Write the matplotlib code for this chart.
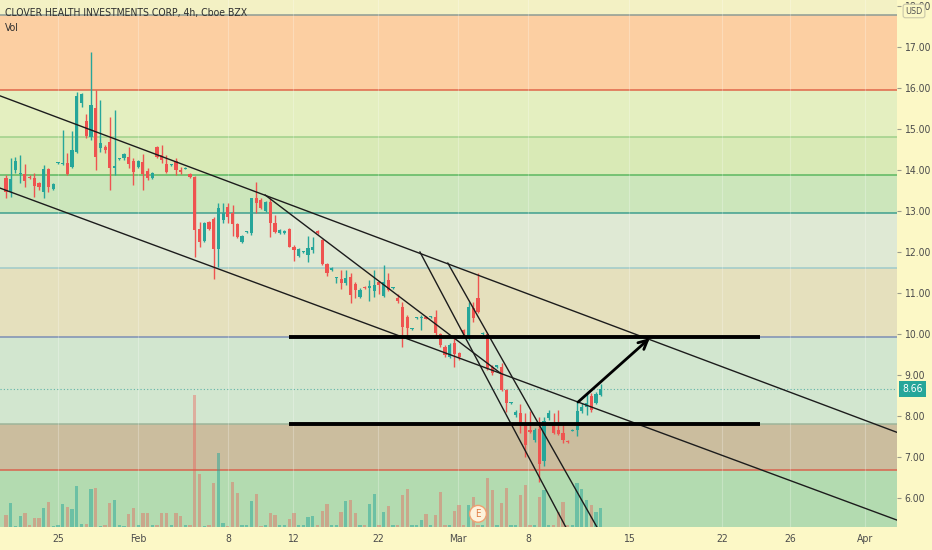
import matplotlib
matplotlib.use("Agg")
import matplotlib.pyplot as plt
import matplotlib.transforms as mtransforms
import numpy as np

plt.rcParams['font.family'] = ['DejaVu Sans']
plt.rcParams['font.stretch'] = 'condensed'

# ─── DATA (4h bars, Jan 20 -> Mar 11) ────────────────────────────────────────
OPEN = [13.81, 13.47, 14.00, 13.90, 13.90, 13.83, 13.81, 13.68, 13.47, 14.02,
        13.54, 14.17, 14.15, 14.17, 14.07, 14.44, 15.64, 15.20, 14.81, 15.51,
        14.54, 14.56, 14.68, 14.05, 14.27, 14.29, 14.32, 14.22, 14.07, 14.20,
        13.98, 13.81, 14.56, 14.37, 14.15, 14.12, 14.22, 14.00, 14.03, 13.90,
        13.83, 12.56, 12.27, 12.73, 12.81, 12.07, 12.78, 13.10, 12.95, 12.68,
        12.24, 12.49, 12.46, 13.32, 13.27, 13.00, 13.22, 12.71, 12.46, 12.46,
        12.56, 12.12, 11.90, 12.00, 11.93, 12.05, 12.51, 12.29, 11.71, 11.56,
        11.37, 11.34, 11.24, 11.39, 11.22, 10.90, 11.15, 11.12, 11.05, 11.27,
        10.93, 11.32, 11.12, 10.88, 10.66, 10.42, 10.12, 10.39, 10.39, 10.42,
        10.42, 10.42, 10.00, 9.68, 9.44, 9.78, 9.54, 10.10, 9.90, 10.63,
        10.88, 10.00, 10.00, 9.20, 9.20, 9.20, 8.63, 8.32, 8.03, 8.07,
        7.83, 7.66, 7.42, 7.69, 6.90, 7.95, 7.80, 7.66, 7.59, 7.39,
        7.64, 7.66, 8.12, 8.22, 8.49, 8.32, 8.51]
HIGH = [13.88, 14.29, 14.32, 14.37, 14.15, 13.88, 13.93, 13.71, 14.12, 14.05,
        13.68, 14.20, 14.98, 14.42, 14.95, 15.90, 15.88, 15.37, 16.88, 15.95,
        15.71, 14.61, 15.30, 15.47, 14.29, 14.42, 14.56, 14.29, 14.25, 14.39,
        14.05, 13.95, 14.59, 14.61, 14.37, 14.14, 14.29, 14.07, 14.07, 13.93,
        13.85, 12.73, 12.73, 12.76, 12.85, 13.20, 13.20, 13.20, 13.15, 12.71,
        12.42, 12.51, 13.32, 13.71, 13.32, 13.24, 13.32, 12.90, 12.56, 12.54,
        12.59, 12.17, 12.10, 12.02, 12.39, 12.37, 12.54, 12.32, 11.73, 11.63,
        11.39, 11.56, 11.56, 11.49, 11.27, 11.12, 11.17, 11.32, 11.56, 11.29,
        11.68, 11.49, 11.14, 10.98, 10.78, 10.46, 10.15, 10.42, 10.46, 10.44,
        10.44, 10.59, 10.02, 9.73, 9.78, 9.93, 9.56, 10.12, 10.78, 10.78,
        11.49, 10.04, 10.02, 9.24, 9.25, 9.29, 8.66, 8.34, 8.15, 8.29,
        8.07, 8.12, 7.71, 7.98, 7.98, 8.15, 8.07, 8.15, 7.83, 7.41,
        7.68, 8.37, 8.32, 8.56, 8.56, 8.59, 8.78]
LOW = [13.32, 13.34, 13.93, 13.68, 13.59, 13.78, 13.34, 13.51, 13.32, 13.47,
       13.51, 14.15, 14.12, 13.88, 14.05, 14.42, 15.54, 14.78, 14.73, 14.00,
       14.44, 14.42, 13.51, 13.88, 14.25, 14.25, 14.05, 13.64, 14.05, 13.51,
       13.76, 13.78, 14.29, 14.17, 13.93, 14.10, 13.88, 13.90, 14.02, 13.81,
       11.88, 12.12, 12.24, 12.54, 11.34, 11.64, 12.71, 12.71, 12.39, 12.34,
       12.22, 12.47, 12.42, 12.95, 13.05, 12.98, 12.37, 12.46, 12.44, 12.44,
       12.12, 11.78, 11.88, 11.98, 11.76, 11.98, 12.44, 11.68, 11.42, 11.54,
       11.24, 11.10, 11.20, 10.76, 10.88, 10.88, 11.10, 10.80, 10.90, 10.98,
       10.90, 11.05, 11.10, 10.76, 9.68, 9.90, 10.10, 10.37, 10.10, 10.37,
       10.40, 9.98, 9.68, 9.44, 9.41, 9.20, 9.37, 9.98, 9.85, 10.29,
       10.51, 9.98, 9.12, 9.00, 9.18, 8.61, 8.10, 8.30, 7.98, 7.59,
       7.00, 7.59, 7.37, 6.40, 6.78, 7.90, 7.56, 7.54, 7.34, 7.35,
       7.63, 7.51, 8.07, 8.03, 8.10, 8.29, 8.49]
CLOSE = [13.47, 13.78, 14.22, 13.93, 13.73, 13.81, 13.61, 13.59, 14.02, 13.59,
         13.66, 14.18, 14.17, 13.90, 14.49, 15.81, 15.85, 14.83, 15.59, 14.32,
         14.66, 14.49, 14.05, 14.10, 14.27, 14.39, 14.15, 13.95, 14.22, 13.90,
         13.81, 13.93, 14.32, 14.25, 13.95, 14.12, 14.00, 13.95, 14.05, 13.83,
         12.54, 12.24, 12.71, 12.56, 12.07, 13.07, 12.95, 12.85, 12.68, 12.37,
         12.39, 12.49, 13.32, 13.20, 13.07, 13.22, 12.71, 12.49, 12.54, 12.51,
         12.12, 12.05, 12.07, 12.00, 12.10, 12.12, 12.46, 11.71, 11.49, 11.61,
         11.37, 11.24, 11.37, 10.95, 11.08, 11.08, 11.12, 11.17, 11.20, 11.20,
         11.27, 11.08, 11.12, 10.81, 10.17, 10.15, 10.15, 10.39, 10.40, 10.37,
         10.42, 10.02, 9.73, 9.49, 9.73, 9.51, 9.44, 10.02, 10.66, 10.39,
         10.54, 10.02, 9.17, 9.05, 9.24, 8.63, 8.32, 8.33, 8.10, 7.83,
         7.29, 7.61, 7.66, 6.83, 7.88, 8.07, 7.59, 7.56, 7.42, 7.37,
         7.66, 8.12, 8.22, 8.32, 8.15, 8.54, 8.66]
VOLUME = [12, 24, 1, 11, 14, 2, 9, 9, 19, 25,
          1, 2, 23, 20, 18, 41, 3, 3, 38, 39,
          1, 2, 24, 27, 2, 1, 13, 19, 2, 14,
          14, 2, 2, 14, 14, 2, 14, 11, 2, 2,
          132, 53, 1, 2, 44, 74, 4, 1, 45, 34,
          2, 2, 26, 33, 1, 2, 14, 12, 2, 2,
          8, 14, 2, 2, 10, 11, 2, 16, 23, 2,
          2, 15, 26, 27, 14, 2, 2, 23, 33, 2,
          15, 21, 2, 2, 32, 38, 2, 2, 7, 13,
          2, 12, 35, 2, 2, 16, 22, 2, 22, 30,
          2, 2, 49, 37, 2, 24, 39, 2, 2, 32,
          42, 2, 2, 30, 37, 2, 2, 15, 25, 2,
          2, 44, 38, 27, 22, 15, 19]

# fib style levels and the band fills between them (bottom -> top)
LEVELS = [6.68, 7.80, 9.93, 11.61, 12.95, 13.88, 14.80, 15.95, 17.78]
LEVEL_COLORS = ['#d9644f', '#9db59a', '#7d8fb5', '#9fcaca', '#3f9f8e',
                '#5cb860', '#9fd08a', '#e0664a', '#8c9c94']
BAND_COLORS = ['#b3dbb0', '#cbbd9e', '#d2e6cf', '#e5e0bd', '#dfe9d4',
               '#cce6bb', '#d9eab6', '#e4efc0', '#fccfa2', '#f3f1c4']

# drawings: (bar, price) anchor pairs
TREND_LINES = [((-1.3, 15.81), (188.8, 7.60)),
               ((-1.3, 13.56), (188.8, 5.46)),
               ((54.9, 13.39), (104.7, 9.05)),
               ((87.7, 12.00), (118.6, 5.29)),
               ((93.6, 11.73), (125.2, 5.29))]
HLINES = [9.93, 7.80]
HLINE_SPAN = (60.0, 159.7)
ARROW = ((121.2, 8.34), (136.4, 9.90))

TICK_POS = [11.0, 28.0, 47.0, 60.8, 78.8, 95.8, 110.6, 132.0, 151.7, 166.1, 182.0]
TICK_LABELS = ['25', 'Feb', '8', '12', '22', 'Mar', '8', '15', '22', '26', 'Apr']
PRICE_TICKS = [6, 7, 8, 9, 10, 11, 12, 13, 14, 15, 16, 17, 18]
LAST_PRICE = 8.66
EARNINGS_BAR = 100

X_LIM = (-1.27, 188.77)
Y_LIM = (5.293, 18.146)

BG = '#fcf8c6'
UP, DOWN = '#26a69a', '#ef5350'

# ─── FIGURE ──────────────────────────────────────────────────────────────────
fig = plt.figure(figsize=(9.32, 5.5), dpi=100, facecolor=BG)
rect = [0, 23 / 550, 897 / 932, 527 / 550]
ax_bg = fig.add_axes(rect)
ax_vol = fig.add_axes(rect, sharex=ax_bg)
ax = fig.add_axes(rect, sharex=ax_bg)

# bands + levels
bounds = [Y_LIM[0]] + LEVELS + [Y_LIM[1]]
for lo, hi, colr in zip(bounds[:-1], bounds[1:], BAND_COLORS):
    ax_bg.axhspan(lo, hi, color=colr, lw=0)
for lvl, colr in zip(LEVELS, LEVEL_COLORS):
    ax_bg.axhline(lvl, color=colr, lw=1.1)
for xp in TICK_POS:
    ax_bg.axvline(xp, color='white', alpha=0.25, lw=0.8)
ax_bg.set_ylim(*Y_LIM)
ax_bg.set_xlim(*X_LIM)
ax_bg.axis('off')

# volume
idx = np.arange(len(OPEN))
o, h, l, c = (np.array(a) for a in (OPEN, HIGH, LOW, CLOSE))
up = c >= o
vol = np.array(VOLUME)
ax_vol.bar(idx[up], vol[up], width=0.7, color=UP, alpha=0.5, lw=0)
ax_vol.bar(idx[~up], vol[~up], width=0.7, color=DOWN, alpha=0.38, lw=0)
ax_vol.set_ylim(0, max(VOLUME) / 0.25)
ax_vol.axis('off')

# candles
cols = np.where(up, UP, DOWN)
ax.vlines(idx, l, h, colors=cols, lw=1, zorder=3)
ax.bar(idx, np.maximum(np.abs(c - o), 0.025), bottom=np.minimum(o, c),
       width=0.68, color=cols, lw=0, zorder=4)

ax.axhline(LAST_PRICE, color='#5fb3a8', lw=0.8, ls=(0, (1, 2)), zorder=2)

# drawings
for (x0, y0), (x1, y1) in TREND_LINES:
    ax.plot([x0, x1], [y0, y1], color='#1c1c1c', lw=1.0, zorder=5)
ax.hlines(HLINES, *HLINE_SPAN, color='black', lw=2.8, zorder=5)
ax.annotate('', xy=ARROW[1], xytext=ARROW[0],
            arrowprops=dict(arrowstyle='->', lw=2, color='black',
                            mutation_scale=16, shrinkA=0, shrinkB=0), zorder=6)

blend = mtransforms.blended_transform_factory(ax.transData, ax.transAxes)
ax.text(EARNINGS_BAR, 0.025, 'E', transform=blend, ha='center', va='center',
        fontsize=7, color='#e07a40', zorder=6,
        bbox=dict(boxstyle='circle,pad=0.35', fc='#fdf2dc', ec='#f0a070', lw=1))

ax.set_xlim(*X_LIM)
ax.set_ylim(*Y_LIM)
ax.patch.set_visible(False)
for s in ax.spines.values():
    s.set_visible(False)

ax.yaxis.tick_right()
ax.set_yticks(PRICE_TICKS)
ax.set_yticklabels([f'{p:.2f}' for p in PRICE_TICKS])
ax.tick_params(axis='y', length=3, width=0.8, color='#9a9a8a', pad=2,
               labelsize=7.5, labelcolor='#4c4c4c')
ax.set_xticks(TICK_POS)
ax.set_xticklabels(TICK_LABELS)
ax.tick_params(axis='x', length=0, pad=5, labelsize=7.5, labelcolor='#4c4c4c')

yblend = mtransforms.blended_transform_factory(ax.transAxes, ax.transData)
ax.annotate(f'{LAST_PRICE:.2f}', xy=(1, LAST_PRICE), xycoords=yblend,
            xytext=(4, 0), textcoords='offset points', ha='left', va='center',
            fontsize=7.5, color='white', annotation_clip=False, zorder=7,
            bbox=dict(boxstyle='square,pad=0.3', fc='#26a69a', ec='none'))

fig.text(914 / 932, 1 - 11 / 550, 'USD', ha='center', va='center', fontsize=6.5,
         color='#555555', zorder=10,
         bbox=dict(boxstyle='round,pad=0.25', fc=BG, ec='#c9c6a8', lw=0.8))

fig.text(5 / 932, 1 - 13 / 550, 'CLOVER HEALTH INVESTMENTS CORP, 4h, Cboe BZX',
         ha='left', va='center', fontsize=7.5, color='#2e2e2e')
fig.text(5 / 932, 1 - 28 / 550, 'Vol', ha='left', va='center', fontsize=7.5,
         color='#2e2e2e')

fig.savefig('out.png', dpi=100, facecolor=BG)
